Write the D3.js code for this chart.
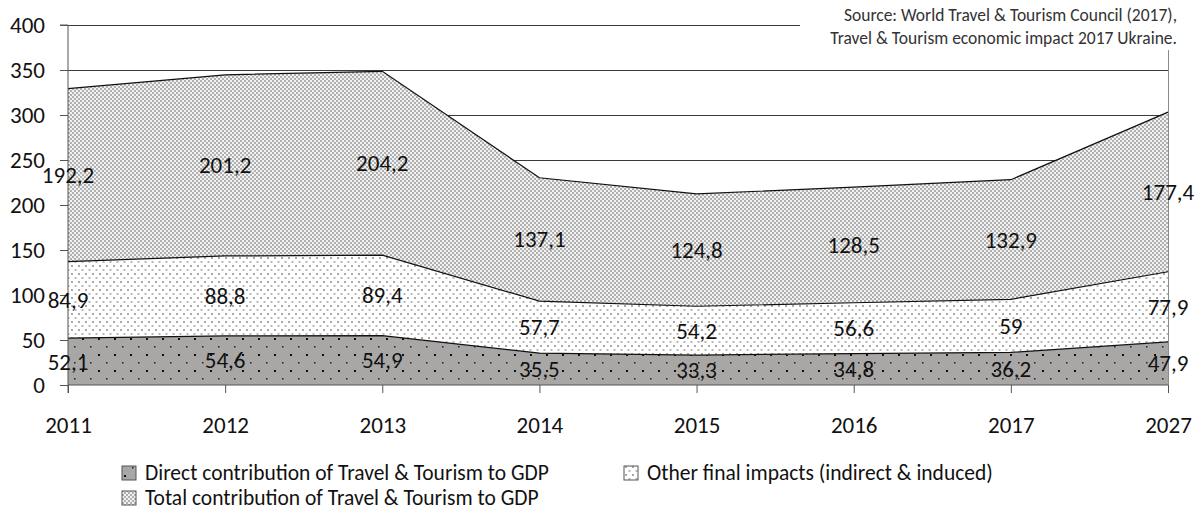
<!DOCTYPE html>
<html>
<head>
<meta charset="utf-8">
<script src="https://cdn.jsdelivr.net/npm/d3@7"></script>
<style>
  html, body { margin: 0; padding: 0; background: #fff; }
  svg { display: block; font-family: Carlito, Lato, sans-serif; }
</style>
</head>
<body>
<svg id="chart" width="1200" height="519"></svg>
<script>
const years = ["2011", "2012", "2013", "2014", "2015", "2016", "2017", "2027"];
const direct = [52.1, 54.6, 54.9, 35.5, 33.3, 34.8, 36.2, 47.9];
const other = [84.9, 88.8, 89.4, 57.7, 54.2, 56.6, 59, 77.9];
const total = [192.2, 201.2, 204.2, 137.1, 124.8, 128.5, 132.9, 177.4];
const yTicks = [0, 50, 100, 150, 200, 250, 300, 350, 400];
const seriesNames = [
  "Direct contribution of Travel & Tourism to GDP",
  "Other final impacts (indirect & induced)",
  "Total contribution of Travel & Tourism to GDP"
];
const sourceLines = [
  "Source: World Travel & Tourism Council (2017),",
  "Travel & Tourism economic impact 2017 Ukraine."
];

const svg = d3.select("#chart");
const x = d3.scalePoint().domain(years).range([68, 1168]);
const y = d3.scaleLinear().domain([0, 400]).range([385, 25]);

// patterns
const defs = svg.append("defs");
const p1 = defs.append("pattern").attr("id", "pDirect").attr("patternUnits", "userSpaceOnUse")
  .attr("width", 16).attr("height", 16);
p1.append("rect").attr("width", 16).attr("height", 16).attr("fill", "#a9a6a6");
p1.append("rect").attr("x", 2).attr("y", 2).attr("width", 2).attr("height", 2).attr("fill", "#111");
p1.append("rect").attr("x", 10).attr("y", 10).attr("width", 1.5).attr("height", 1.5).attr("fill", "#222");

const p2 = defs.append("pattern").attr("id", "pOther").attr("patternUnits", "userSpaceOnUse")
  .attr("width", 7).attr("height", 8);
p2.append("rect").attr("width", 7).attr("height", 8).attr("fill", "#fff");
p2.append("rect").attr("x", 1).attr("y", 1).attr("width", 2).attr("height", 2).attr("fill", "#a8a8a8");
p2.append("rect").attr("x", 4.5).attr("y", 5).attr("width", 2).attr("height", 2).attr("fill", "#b8b8b8");

const p3 = defs.append("pattern").attr("id", "pTotal").attr("patternUnits", "userSpaceOnUse")
  .attr("width", 4).attr("height", 4);
p3.append("rect").attr("width", 4).attr("height", 4).attr("fill", "#f2f2f2");
p3.append("rect").attr("x", 0).attr("y", 0).attr("width", 2).attr("height", 2).attr("fill", "#b0b0b0");
p3.append("rect").attr("x", 2).attr("y", 2).attr("width", 2).attr("height", 2).attr("fill", "#b0b0b0");

const fills = ["url(#pDirect)", "url(#pOther)", "url(#pTotal)"];

// gridlines
svg.append("g").selectAll("line").data(yTicks.filter(d => d > 0)).join("line")
  .attr("x1", x(years[0])).attr("x2", x(years[years.length - 1]))
  .attr("y1", d => y(d)).attr("y2", d => y(d))
  .attr("stroke", "#3a3a3a").attr("stroke-width", 1).attr("shape-rendering", "crispEdges");

// right border line
svg.append("line")
  .attr("x1", x(years[years.length - 1])).attr("x2", x(years[years.length - 1]))
  .attr("y1", y(400)).attr("y2", y(0))
  .attr("stroke", "#8a8a8a").attr("shape-rendering", "crispEdges");

// stacked areas
const rows = years.map((yr, i) => ({ year: yr, direct: direct[i], other: other[i], total: total[i] }));
const keys = ["direct", "other", "total"];
const stack = d3.stack().keys(keys);
const layers = stack(rows);

const area = d3.area().x(d => x(d.data.year)).y0(d => y(d[0])).y1(d => y(d[1]));
const topLine = d3.line().x(d => x(d.data.year)).y(d => y(d[1]));

svg.append("g").selectAll("path").data(layers).join("path")
  .attr("d", area).attr("fill", (d, i) => fills[i]);
svg.append("g").selectAll("path").data(layers).join("path")
  .attr("d", topLine).attr("fill", "none").attr("stroke", "#111").attr("stroke-width", 1.2);

// axes
const axisFont = "23px";
const yAxis = d3.axisLeft(y).tickValues(yTicks).tickSize(8).tickPadding(15);
const gy = svg.append("g").attr("transform", `translate(${x(years[0])},0)`).call(yAxis);
gy.select(".domain").attr("stroke", "#555").attr("d", `M-8,${y(400)}H0V${y(0) + 8}`);
gy.selectAll(".tick line").attr("stroke", "#555");
gy.selectAll(".tick text").attr("fill", "#111").style("font-size", axisFont).style("font-family", "Carlito, Lato, sans-serif");

const xAxis = d3.axisBottom(x).tickSize(8).tickPadding(24);
const gx = svg.append("g").attr("transform", `translate(0,${y(0)})`).call(xAxis);
gx.select(".domain").attr("stroke", "#555").attr("d", `M${x(years[0])},0H${x(years[years.length - 1])}`);
gx.selectAll(".tick line").attr("stroke", "#555");
gx.selectAll(".tick text").attr("fill", "#111").style("font-size", axisFont).style("font-family", "Carlito, Lato, sans-serif");

// value labels
const fmt = v => String(v).replace(".", ",");
const labelData = [];
layers.forEach((layer, li) => {
  const src = [direct, other, total][li];
  layer.forEach((d, i) => labelData.push({ year: d.data.year, v: src[i], mid: (d[0] + d[1]) / 2 }));
});
svg.append("g").selectAll("text").data(labelData).join("text")
  .attr("x", d => x(d.year)).attr("y", d => y(d.mid))
  .attr("text-anchor", "middle").attr("dominant-baseline", "central")
  .attr("fill", "#111").style("font-size", "23px")
  .text(d => fmt(d.v));

// source box
svg.append("rect").attr("x", 800).attr("y", 0).attr("width", 400).attr("height", 50).attr("fill", "#fff");
svg.append("g").selectAll("text").data(sourceLines).join("text")
  .attr("x", 1177).attr("y", (d, i) => 15 + i * 23)
  .attr("text-anchor", "end").attr("dominant-baseline", "central")
  .attr("fill", "#333").style("font-size", "17.5px")
  .text(d => d);

// legend
const legendPos = [[122, 473], [624, 473], [122, 498]];
const lg = svg.append("g").selectAll("g").data(seriesNames).join("g")
  .attr("transform", (d, i) => `translate(${legendPos[i][0]},${legendPos[i][1]})`);
lg.append("rect").attr("x", 0).attr("y", -7).attr("width", 14).attr("height", 14)
  .attr("fill", (d, i) => fills[i]).attr("stroke", "#555").attr("stroke-width", 1);
lg.append("text").attr("x", 23).attr("y", 0).attr("dominant-baseline", "central")
  .attr("fill", "#111").style("font-size", "21.5px").text(d => d);
</script>
</body>
</html>
